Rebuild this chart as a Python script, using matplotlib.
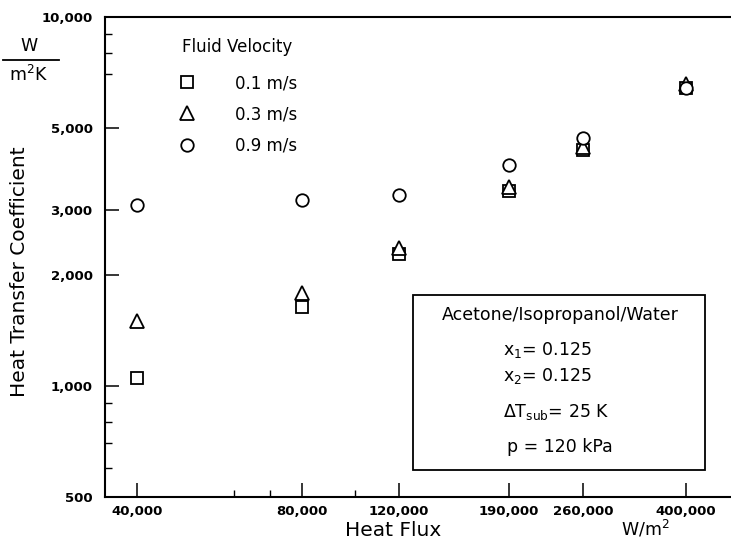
import numpy as np
import matplotlib
matplotlib.use("Agg")
import matplotlib.pyplot as plt
from matplotlib.ticker import FixedLocator, FuncFormatter, NullFormatter
from matplotlib.lines import Line2D
from matplotlib.patches import Rectangle

# heat flux, W/m^2
heat_flux = [40000, 80000, 120000, 190000, 260000, 400000]

# heat transfer coefficient, W/m^2K, per fluid velocity
h_01 = [1050, 1640, 2280, 3370, 4360, 6420]
h_03 = [1500, 1790, 2370, 3460, 4450, 6580]
h_09 = [3100, 3190, 3300, 3970, 4700, 6420]

x_ticks = [40000, 80000, 120000, 190000, 260000, 400000]
x_minor = [60000, 70000, 100000]
y_ticks = [500, 1000, 2000, 3000, 5000, 10000]
y_minor = [600, 700, 800, 900, 7000, 8000, 9000]

plt.rcParams['font.family'] = 'DejaVu Sans'

fig = plt.figure(figsize=(7.31, 5.46), dpi=100)
ax = fig.add_axes([105 / 731, 1 - 497 / 546, 1 - 105 / 731, (497 - 17) / 546])

mk = dict(linestyle='none', markerfacecolor='white', markeredgecolor='black', markeredgewidth=1.3)
ax.plot(heat_flux, h_01, marker='s', markersize=8, **mk)
ax.plot(heat_flux, h_03, marker='^', markersize=9.5, **mk)
ax.plot(heat_flux, h_09, marker='o', markersize=9, **mk)

ax.set_xscale('log')
ax.set_yscale('log')
ax.set_xlim(34980, 483000)
ax.set_ylim(500, 10000)

fmt = FuncFormatter(lambda v, p: f"{v:,.0f}")
ax.xaxis.set_major_locator(FixedLocator(x_ticks))
ax.xaxis.set_minor_locator(FixedLocator(x_minor))
ax.xaxis.set_major_formatter(fmt)
ax.xaxis.set_minor_formatter(NullFormatter())
ax.yaxis.set_major_locator(FixedLocator(y_ticks))
ax.yaxis.set_minor_locator(FixedLocator(y_minor))
ax.yaxis.set_major_formatter(fmt)
ax.yaxis.set_minor_formatter(NullFormatter())

ax.tick_params(which='major', direction='in', length=10, width=1.1, labelsize=9.5)
ax.tick_params(which='minor', direction='in', length=5, width=1.0)
ax.tick_params(axis='y', which='major', pad=9)
ax.tick_params(axis='x', which='major', pad=6)
for lab in ax.get_xticklabels() + ax.get_yticklabels():
    lab.set_fontweight('bold')

ax.spines['right'].set_visible(False)
for s in ['left', 'bottom', 'top']:
    ax.spines[s].set_linewidth(1.5)

# axis labels
fig.text(20 / 731, 1 - 272 / 546, 'Heat Transfer Coefficient', rotation=90,
         ha='center', va='center', fontsize=14.5)
fig.text(393 / 731, 1 - 531 / 546, 'Heat Flux', ha='center', va='center', fontsize=14.5)
fig.text(645 / 731, 1 - 529 / 546, r'W/m$^\mathregular{2}$', ha='center', va='center', fontsize=12.5)

# unit fraction at top left
fig.text(29 / 731, 1 - 46 / 546, 'W', ha='center', va='center', fontsize=12.5)
fig.add_artist(Line2D([3 / 731, 59 / 731], [1 - 60 / 546, 1 - 60 / 546], color='black', lw=1.3))
fig.text(29 / 731, 1 - 75 / 546, r'm$^\mathregular{2}$K', ha='center', va='center', fontsize=12.5)

# legend
fig.text(182 / 731, 1 - 47 / 546, 'Fluid Velocity', ha='left', va='center', fontsize=12)
handles = [Line2D([], [], marker='s', markersize=8, **mk),
           Line2D([], [], marker='^', markersize=9.5, **mk),
           Line2D([], [], marker='o', markersize=9, **mk)]
leg = ax.legend(handles, ['0.1 m/s', '0.3 m/s', '0.9 m/s'],
                loc='upper left', bbox_to_anchor=(182 / 731, 1 - 74 / 546),
                bbox_transform=fig.transFigure, frameon=False, fontsize=12,
                handlelength=0.6, handletextpad=2.6,
                labelspacing=0.8, borderpad=0, borderaxespad=0)

# conditions box
fig.add_artist(Rectangle((413 / 731, 1 - 470 / 546), (705 - 413) / 731, (470 - 295) / 546,
                         transform=fig.transFigure, fill=False, edgecolor='black', lw=1.3))
fig.text(560 / 731, 1 - 315 / 546, 'Acetone/Isopropanol/Water', ha='center', va='center', fontsize=12.5)
fig.text(503 / 731, 1 - 350 / 546, r'x$_\mathregular{1}$= 0.125', ha='left', va='center', fontsize=12.5)
fig.text(503 / 731, 1 - 376 / 546, r'x$_\mathregular{2}$= 0.125', ha='left', va='center', fontsize=12.5)
fig.text(503 / 731, 1 - 412 / 546, r'$\Delta$T$_\mathregular{sub}$= 25 K', ha='left', va='center', fontsize=12.5)
fig.text(507 / 731, 1 - 447 / 546, 'p = 120 kPa', ha='left', va='center', fontsize=12.5)

fig.savefig('out.png', dpi=100)
